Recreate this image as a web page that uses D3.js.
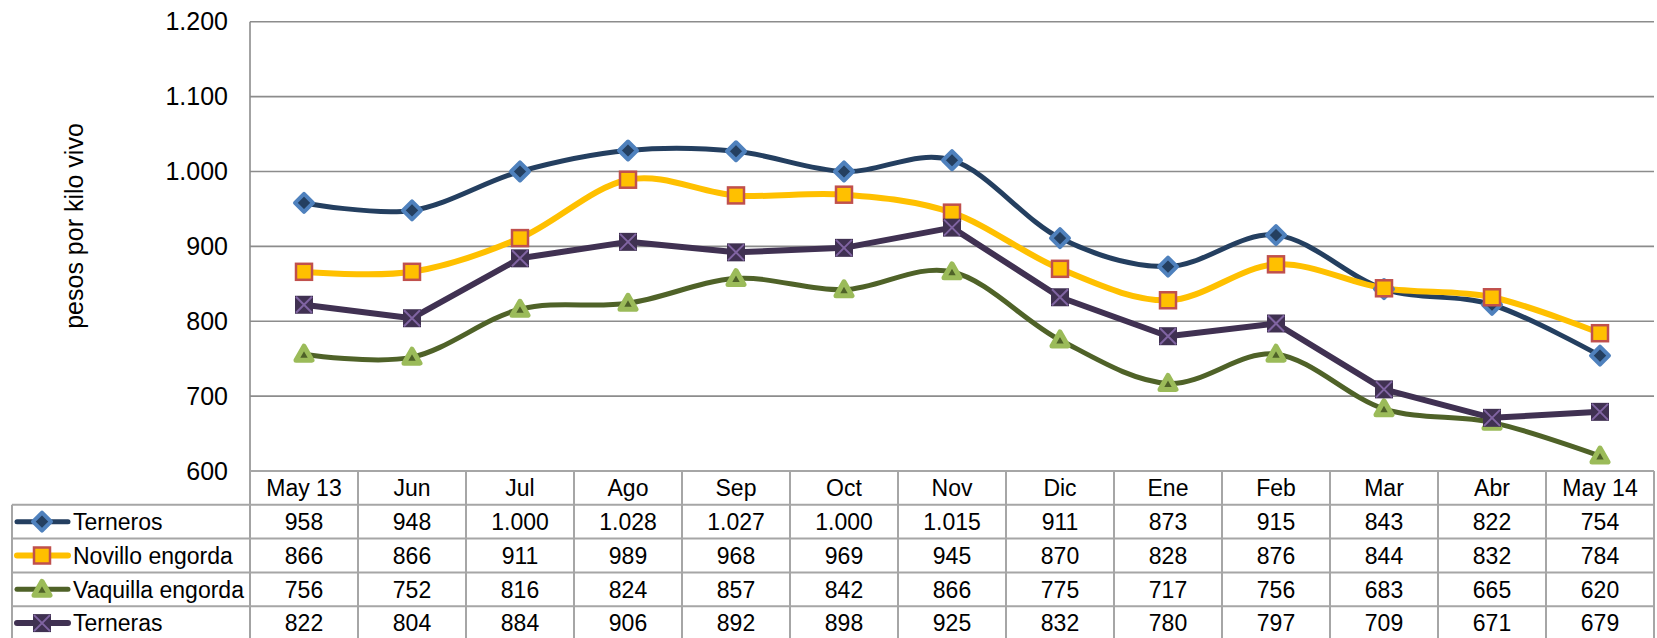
<!DOCTYPE html>
<html>
<head>
<meta charset="utf-8">
<script src="https://cdn.jsdelivr.net/npm/d3@7"></script>
<style>
  body { margin: 0; background: #fff; }
  svg { display: block; font-family: "Liberation Sans", Arial, sans-serif; }
</style>
</head>
<body>
<div id="container"></div>
<script>
/* DATA */
const months = ["May 13", "Jun", "Jul", "Ago", "Sep", "Oct", "Nov", "Dic", "Ene", "Feb", "Mar", "Abr", "May 14"];
const terneros = [958, 948, 1000, 1028, 1027, 1000, 1015, 911, 873, 915, 843, 822, 754];
const novillo = [866, 866, 911, 989, 968, 969, 945, 870, 828, 876, 844, 832, 784];
const vaquilla = [756, 752, 816, 824, 857, 842, 866, 775, 717, 756, 683, 665, 620];
const terneras = [822, 804, 884, 906, 892, 898, 925, 832, 780, 797, 709, 671, 679];
const yTicks = [600, 700, 800, 900, 1000, 1100, 1200];
const yTitle = "pesos por kilo vivo";

const series = [
  { name: "Terneros", values: terneros, line: "#243F60", width: 5, smooth: true, marker: "diamond" },
  { name: "Novillo engorda", values: novillo, line: "#FFC000", width: 6, smooth: true, marker: "square" },
  { name: "Vaquilla engorda", values: vaquilla, line: "#4F6228", width: 5, smooth: true, marker: "triangle" },
  { name: "Terneras", values: terneras, line: "#403152", width: 6, smooth: false, marker: "xsquare" }
];

/* CONSTANTS */
const width = 1657, height = 638;
const plotLeft = 250, plotRight = 1654, plotTop = 21.7, plotBottom = 471;
const tableLeft = 12, rowH = 33.8;
const gridColor = "#8c8c8c", tableColor = "#a6a6a6";
const tableFont = 23;

const fmt = v => d3.format(",")(v).replace(/,/g, ".");

const svg = d3.select("#container")
  .append("svg")
  .attr("width", width)
  .attr("height", height);

// scales
const xScale = d3.scaleBand()
  .domain(months)
  .range([plotLeft, plotRight])
  .padding(0);

const yScale = d3.scaleLinear()
  .domain([600, 1200])
  .range([plotBottom, plotTop]);

const rowScale = d3.scaleBand()
  .domain(["header"].concat(series.map(s => s.name)))
  .range([plotBottom, plotBottom + rowH * 5]);

// gridlines
svg.append("g")
  .selectAll("line")
  .data(yTicks)
  .join("line")
  .attr("x1", plotLeft)
  .attr("x2", plotRight)
  .attr("y1", d => yScale(d))
  .attr("y2", d => yScale(d))
  .attr("stroke", gridColor)
  .attr("stroke-width", 1.6);

// y axis line
svg.append("line")
  .attr("x1", plotLeft).attr("x2", plotLeft)
  .attr("y1", plotTop).attr("y2", height)
  .attr("stroke", gridColor)
  .attr("stroke-width", 1.6);

// y tick labels
svg.append("g")
  .selectAll("text")
  .data(yTicks)
  .join("text")
  .attr("x", 228)
  .attr("y", d => yScale(d))
  .attr("dy", "0.35em")
  .attr("text-anchor", "end")
  .attr("font-size", 25)
  .attr("fill", "#000")
  .text(d => fmt(d));

// y title
svg.append("text")
  .attr("transform", `translate(83, 226) rotate(-90)`)
  .attr("text-anchor", "middle")
  .attr("font-size", 25)
  .text(yTitle);

/* TABLE */
const table = svg.append("g");
const rowNames = series.map(s => s.name);

// horizontal lines
table.append("line")
  .attr("x1", plotLeft).attr("x2", plotRight)
  .attr("y1", rowScale("header")).attr("y2", rowScale("header"))
  .attr("stroke", tableColor).attr("stroke-width", 2);
table.selectAll(".hrow")
  .data(rowNames)
  .join("line")
  .attr("class", "hrow")
  .attr("x1", tableLeft).attr("x2", plotRight)
  .attr("y1", d => rowScale(d)).attr("y2", d => rowScale(d))
  .attr("stroke", tableColor).attr("stroke-width", 2);

// vertical lines
table.append("line")
  .attr("x1", tableLeft).attr("x2", tableLeft)
  .attr("y1", rowScale(rowNames[0])).attr("y2", height)
  .attr("stroke", tableColor).attr("stroke-width", 2);
table.selectAll(".vcol")
  .data(months)
  .join("line")
  .attr("class", "vcol")
  .attr("x1", d => xScale(d) + xScale.bandwidth())
  .attr("x2", d => xScale(d) + xScale.bandwidth())
  .attr("y1", rowScale("header")).attr("y2", height)
  .attr("stroke", tableColor).attr("stroke-width", 2);

// header labels
table.selectAll(".hlab")
  .data(months)
  .join("text")
  .attr("class", "hlab")
  .attr("x", d => xScale(d) + xScale.bandwidth() / 2)
  .attr("y", rowScale("header") + rowH / 2)
  .attr("dy", "0.36em")
  .attr("text-anchor", "middle")
  .attr("font-size", tableFont)
  .text(d => d);

// data cells
series.forEach(s => {
  const cy = rowScale(s.name) + rowH / 2;
  table.append("g")
    .selectAll("text")
    .data(s.values)
    .join("text")
    .attr("x", (d, i) => xScale(months[i]) + xScale.bandwidth() / 2)
    .attr("y", cy)
    .attr("dy", "0.36em")
    .attr("text-anchor", "middle")
    .attr("font-size", tableFont)
    .text(d => fmt(d));
});

/* MARKERS */
function drawMarker(g, type) {
  if (type === "diamond") {
    g.append("path")
      .attr("d", "M0,-9 L9,0 L0,9 L-9,0 Z")
      .attr("fill", "#243F60")
      .attr("stroke", "#4F81BD")
      .attr("stroke-width", 4)
      .attr("stroke-linejoin", "round");
  } else if (type === "square") {
    g.append("rect")
      .attr("x", -8).attr("y", -8)
      .attr("width", 16).attr("height", 16)
      .attr("fill", "#FFC000")
      .attr("stroke", "#C0504D")
      .attr("stroke-width", 2.5);
  } else if (type === "triangle") {
    g.append("path")
      .attr("d", "M0,-8 L8,6 L-8,6 Z")
      .attr("fill", "#4F6228")
      .attr("stroke", "#9BBB59")
      .attr("stroke-width", 5)
      .attr("stroke-linejoin", "round");
  } else {
    g.append("rect")
      .attr("x", -9).attr("y", -9)
      .attr("width", 18).attr("height", 18)
      .attr("fill", "#403152");
    g.append("path")
      .attr("d", "M-8,-8 L8,8 M8,-8 L-8,8")
      .attr("stroke", "#8064A2")
      .attr("stroke-width", 2);
  }
}

// lines
series.forEach(s => {
  const line = d3.line()
    .x((d, i) => xScale(months[i]) + xScale.bandwidth() / 2)
    .y(d => yScale(d))
    .curve(s.smooth ? d3.curveCardinal.tension(0) : d3.curveLinear);

  svg.append("path")
    .datum(s.values)
    .attr("d", line)
    .attr("fill", "none")
    .attr("stroke", s.line)
    .attr("stroke-width", s.width)
    .attr("stroke-linejoin", "round");
});

// markers on top
series.forEach(s => {
  svg.append("g")
    .selectAll("g")
    .data(s.values)
    .join("g")
    .attr("transform", (d, i) => `translate(${xScale(months[i]) + xScale.bandwidth() / 2},${yScale(d)})`)
    .each(function () { drawMarker(d3.select(this), s.marker); });
});

// legend keys in table
series.forEach(s => {
  const cy = rowScale(s.name) + rowH / 2;
  const g = table.append("g");
  g.append("line")
    .attr("x1", 17).attr("x2", 68)
    .attr("y1", cy).attr("y2", cy)
    .attr("stroke", s.line)
    .attr("stroke-width", s.width)
    .attr("stroke-linecap", "round");
  drawMarker(g.append("g").attr("transform", `translate(42,${cy})`), s.marker);
  g.append("text")
    .attr("x", 73)
    .attr("y", cy)
    .attr("dy", "0.36em")
    .attr("font-size", tableFont)
    .text(s.name);
});
</script>
</body>
</html>
